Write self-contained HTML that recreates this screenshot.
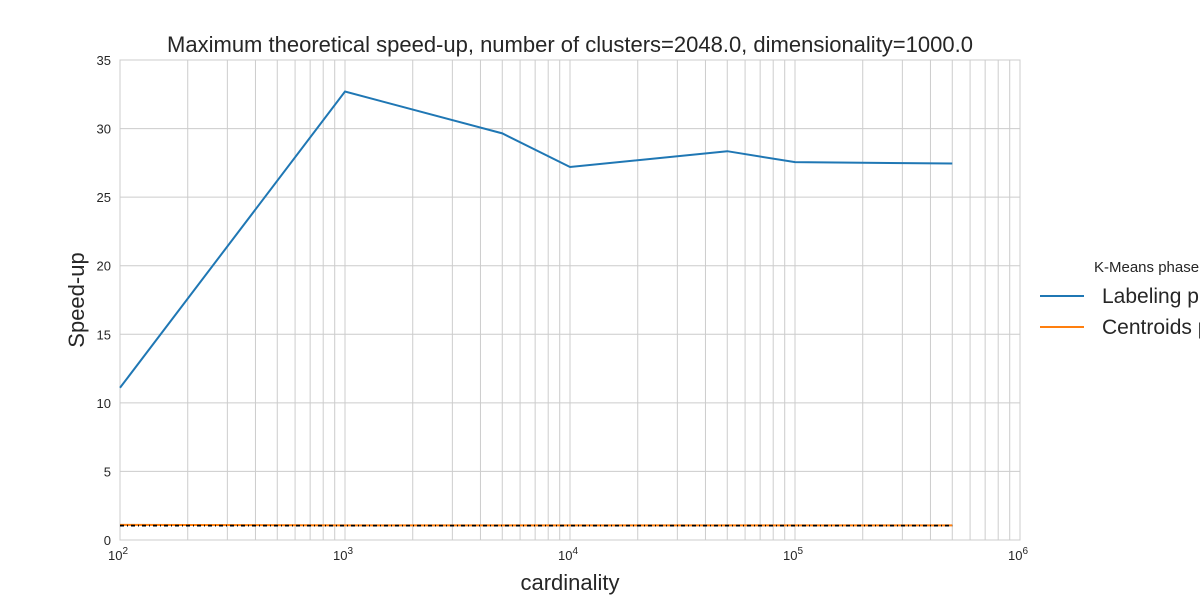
<!DOCTYPE html>
<html><head><meta charset="utf-8"><style>body{margin:0;background:#fff;overflow:hidden}svg{display:block;font-family:"Liberation Sans",Arial,sans-serif}</style></head>
<body>
<svg id="c" width="1200" height="600"></svg>
<script>
const xs=[100,1000,5000,10000,50000,100000,500000];
const labeling=[11.1,32.7,29.65,27.2,28.35,27.55,27.45];
const centroids=[1.1,1.07,1.07,1.07,1.07,1.07,1.07];
const baseline=[1.05,1.05,1.05,1.05,1.05,1.05,1.05];
const yTicks=[0,5,10,15,20,25,30,35];
const xDecades=[2,3,4,5,6];
const L=120,R=1020,T=60,B=540;
const X=v=>L+(Math.log10(v)-2)/4*(R-L);
const Y=v=>B-v/35*(B-T);
const svg=document.getElementById('c');const NS='http://www.w3.org/2000/svg';
function el(t,a,p){const e=document.createElementNS(NS,t);for(const k in a)e.setAttribute(k,a[k]);(p||svg).appendChild(e);return e;}
const g=el('g',{});


for(let d=2;d<6;d++)for(let m=1;m<10;m++){const x=X(m*Math.pow(10,d));el('line',{x1:x,x2:x,y1:T,y2:B,stroke:'#cccccc','stroke-width':1},g);}
yTicks.forEach(v=>{el('line',{x1:L,x2:R,y1:Y(v),y2:Y(v),stroke:'#cccccc','stroke-width':1},g);
const t=el('text',{x:L-9,y:Y(v)+5,'text-anchor':'end','font-size':13,fill:'#262626'});t.textContent=v;

});
xDecades.forEach(d=>{const t=el('text',{x:X(Math.pow(10,d))-2,y:B+20,'text-anchor':'middle','font-size':13,fill:'#262626'});


t.textContent='10';const s=el('tspan',{dy:-6,'font-size':10},t);s.textContent=d;});
const fr=el('rect',{x:L,y:T,width:R-L,height:B-T,fill:'none',stroke:'#cccccc','stroke-width':1});


function line(arr,col,name,extra){const p=el('polyline',Object.assign({points:xs.map((x,i)=>X(x)+','+Y(arr[i])).join(' '),fill:'none',stroke:col,'stroke-width':2},extra||{}));

}
line(centroids,'#ff7f0e','centroids-line');
line(baseline,'#000','baseline-line',{'stroke-dasharray':'4,3,1,3','stroke-width':1.8});
line(labeling,'#1f77b4','labeling-line');
function txt(s,a,name){const t=el('text',a);t.textContent=s;

return t;}
txt('Maximum theoretical speed-up, number of clusters=2048.0, dimensionality=1000.0',{x:570,y:52,'text-anchor':'middle','font-size':22,fill:'#262626'},'chart-title');
txt('cardinality',{x:570,y:590,'text-anchor':'middle','font-size':22,fill:'#262626'},'x-axis-title');
txt('Speed-up',{x:84,y:300,'text-anchor':'middle','font-size':22,fill:'#262626',transform:'rotate(-90 84 300)'},'y-axis-title');
txt('K-Means phase',{x:1094,y:272,'font-size':15,fill:'#262626'},'legend-title');
const l1=el('line',{x1:1040,x2:1084,y1:296,y2:296,stroke:'#1f77b4','stroke-width':2});


txt('Labeling phase',{x:1102,y:303,'font-size':21,fill:'#262626'},'legend-labeling');
const l2=el('line',{x1:1040,x2:1084,y1:327,y2:327,stroke:'#ff7f0e','stroke-width':2});


txt('Centroids phase',{x:1102,y:334,'font-size':21,fill:'#262626'},'legend-centroids');
</script>
</body></html>
